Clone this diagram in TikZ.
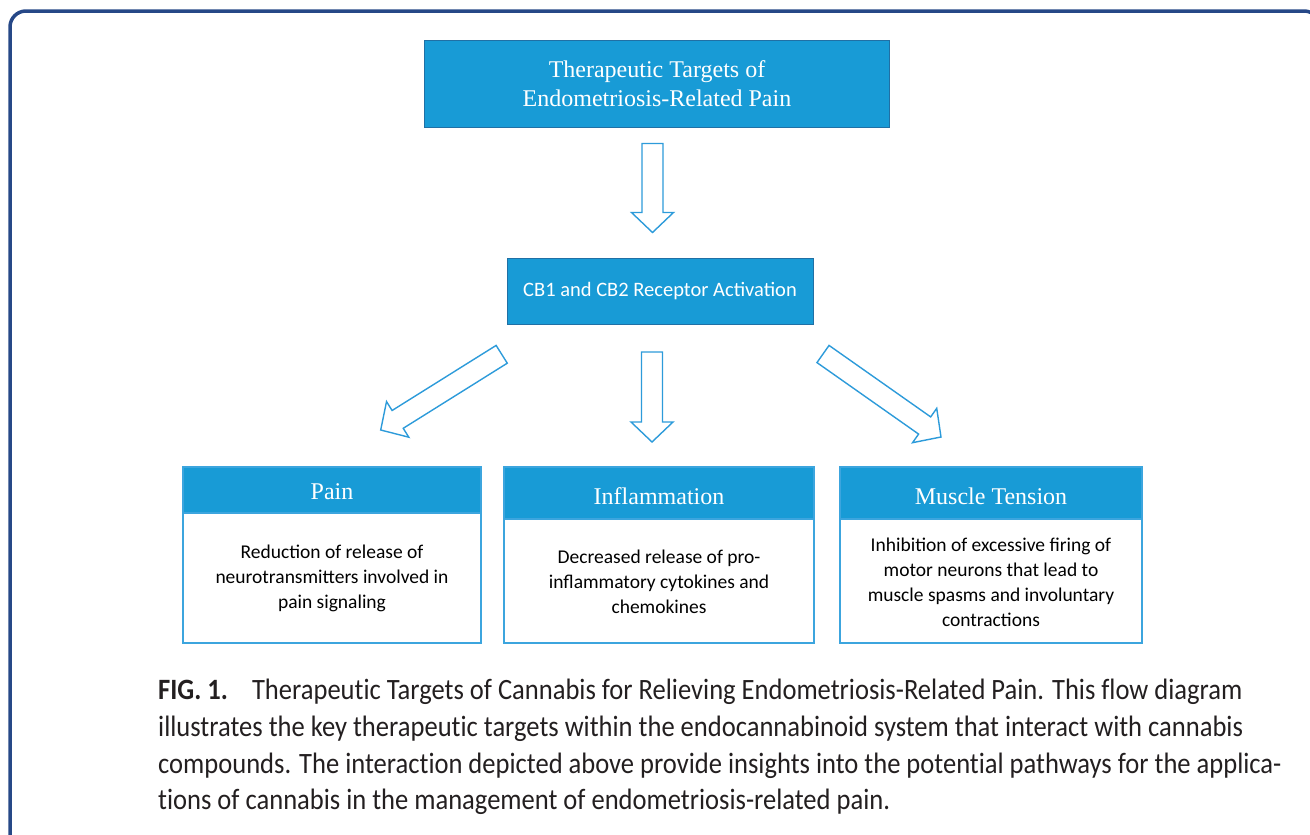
\documentclass[tikz,border=0pt]{standalone}
\usepackage{fontspec}
\setmainfont{Liberation Serif}
\newfontfamily\bodyfont{Carlito}
\newfontfamily\capfont[FakeStretch=0.9, Ligatures=NoCommon]{Carlito}
\usetikzlibrary{calc}

\definecolor{boxblue}{RGB}{24,155,214}
\definecolor{edgeblue}{RGB}{32,112,165}
\definecolor{paleedge}{RGB}{60,165,222}
\definecolor{linkblue}{RGB}{45,155,218}
\definecolor{framenavy}{RGB}{38,72,135}
\definecolor{captext}{RGB}{35,31,32}

% hollow block arrow from #1 (tail) to #2 (tip)
\newcommand\hollowarrow[2]{%
  \coordinate (hb) at ($(#2)!20pt!(#1)$);
  \draw[blockarrow]
    ($(#1)!10.5pt!90:(#2)$) -- ($(hb)!10.5pt!-90:(#1)$) -- ($(hb)!21pt!-90:(#1)$)
    -- (#2) -- ($(hb)!21pt!90:(#1)$) -- ($(hb)!10.5pt!90:(#1)$)
    -- ($(#1)!10.5pt!-90:(#2)$) -- cycle;}

\begin{document}
\begin{tikzpicture}[x=1pt,y=-1pt,
  bluebox/.style={draw=edgeblue, line width=1pt, fill=boxblue, text=white,
    inner sep=0pt, outer sep=0pt, align=center},
  serifhead/.style={font=\fontsize{24}{29}\selectfont},
  cardframe/.style={draw=paleedge, line width=1.4pt, fill=white, inner sep=0pt, outer sep=0pt},
  cardhead/.style={draw=paleedge, line width=1.2pt, fill=boxblue, inner sep=0pt, outer sep=0pt},
  headtext/.style={text=white, font=\fontsize{24}{29}\selectfont, inner sep=0pt},
  bodytext/.style={text=black, font=\bodyfont\fontsize{19.5}{25}\selectfont, align=center, inner sep=0pt},
  blockarrow/.style={draw=linkblue, line width=1.4pt, fill=white, line join=miter},
  captionline/.style={anchor=base west, inner sep=0pt, text=captext,
    font=\capfont\fontsize{29.5}{37}\selectfont}]

\useasboundingbox (0,0) rectangle (1310,835);
\clip (0,0) rectangle (1310,835);

% outer frame, open past the bottom and right edges
\draw[framenavy, line width=3.5pt, rounded corners=16pt]
  (10,900) -- (10,11) -- (1320,11) -- (1320,900);

% top of the flow
\node[bluebox, serifhead, minimum width=465, minimum height=87] (title) at (657,83.5)
  {Therapeutic Targets of\\Endometriosis-Related Pain};
\node[bluebox, font=\bodyfont\fontsize{20.5}{25}\selectfont, minimum width=306, minimum height=66]
  (cb) at (660,291) {CB1 and CB2 Receptor Activation};

% three target cards
\node[cardframe, minimum width=298, minimum height=176] (pain) at (332,555) {};
\node[cardhead, minimum width=298, minimum height=46, anchor=north] (painhead) at (pain.north) {};
\node[headtext] (painlabel) at (332,492) {Pain};
\node[bodytext] (paintext) at (332,578)
  {Reduction of release of\\neurotransmitters involved in\\pain signaling};

\node[cardframe, minimum width=310, minimum height=176] (infl) at (659,555) {};
\node[cardhead, minimum width=310, minimum height=52, anchor=north] (inflhead) at (infl.north) {};
\node[headtext] (infllabel) at (659,496) {Inflammation};
\node[bodytext] (infltext) at (659,582)
  {Decreased release of pro-\\inflammatory cytokines and\\chemokines};

\node[cardframe, minimum width=302, minimum height=176] (musc) at (991,555) {};
\node[cardhead, minimum width=302, minimum height=52, anchor=north] (muschead) at (musc.north) {};
\node[headtext] (musclabel) at (991,496) {Muscle Tension};
\node[bodytext] (musctext) at (991,582.5)
  {Inhibition of excessive firing of\\motor neurons that lead to\\muscle spasms and involuntary\\contractions};

% arrow end points
\coordinate (t1) at ($(title.south)+(-4.5,16.5)$);
\coordinate (h1) at ($(cb.north)+(-7.5,-25.5)$);
\coordinate (t2) at ($(cb.south)+(-158.3,30.3)$);
\coordinate (h2) at ($(pain.north)+(48.7,-37)$);
\coordinate (t3) at ($(cb.south)+(-8,28)$);
\coordinate (h3) at ($(infl.north)+(-7,-25)$);
\coordinate (t4) at ($(cb.south)+(163,30)$);
\coordinate (h4) at ($(musc.north)+(-50,-30)$);

\hollowarrow{t1}{h1}
\hollowarrow{t2}{h2}
\hollowarrow{t3}{h3}
\hollowarrow{t4}{h4}

% caption
\node[captionline] (cap1) at (158,699)
  {{\bfseries FIG. 1.}\hspace{24pt}Therapeutic Targets of Cannabis for Relieving Endometriosis-Related Pain. This flow diagram};
\node[captionline] (cap2) at (158,736)
  {illustrates the key therapeutic targets within the endocannabinoid system that interact with cannabis};
\node[captionline] (cap3) at (158,773)
  {compounds. The interaction depicted above provide insights into the potential pathways for the applica-};
\node[captionline] (cap4) at (158,809)
  {tions of cannabis in the management of endometriosis-related pain.};
\end{tikzpicture}
\end{document}
